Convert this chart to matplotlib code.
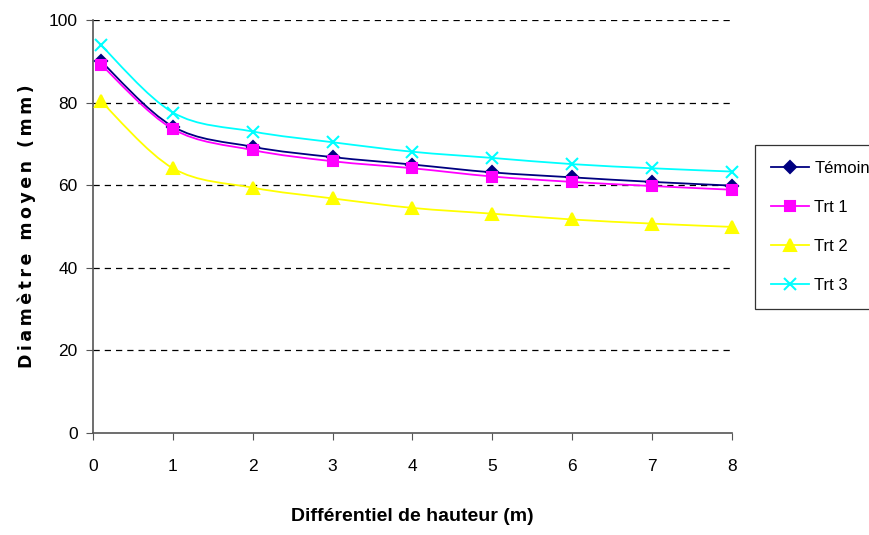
import matplotlib
matplotlib.use("Agg")
import matplotlib.pyplot as plt
import numpy as np
from matplotlib.path import Path
from matplotlib.patches import PathPatch
from matplotlib.lines import Line2D

# Height differential (m)
x_vals = [0.1, 1, 2, 3, 4, 5, 6, 7, 8]

# Mean diameter (mm) per treatment
temoin = [90.0, 74.2, 69.3, 66.8, 65.0, 63.1, 61.9, 60.8, 59.9]
trt1 = [89.2, 73.6, 68.5, 65.8, 64.1, 62.1, 60.8, 59.8, 58.9]
trt2 = [80.3, 64.1, 59.4, 56.8, 54.5, 53.1, 51.7, 50.7, 49.9]
trt3 = [93.9, 77.6, 73.0, 70.4, 68.1, 66.6, 65.1, 64.1, 63.3]

series_names = ["Témoin", "Trt 1", "Trt 2", "Trt 3"]
x_ticks = [0, 1, 2, 3, 4, 5, 6, 7, 8]
y_ticks = [0, 20, 40, 60, 80, 100]

styles = [
    dict(color="#000080", marker="D", ms=6),
    dict(color="#FF00FF", marker="s", ms=7),
    dict(color="#FFFF00", marker="^", ms=8),
    dict(color="#00FFFF", marker="x", ms=8),
]

plt.rcParams["font.family"] = ["Liberation Sans", "DejaVu Sans"]

fig = plt.figure(figsize=(8.7, 5.35), dpi=100)
ax = fig.add_axes([93 / 870, 1 - 433 / 535, (732 - 93) / 870, (433 - 20) / 535])


def smooth_path(xs, ys):
    """Cubic Bezier through the points (Catmull-Rom style tangents)."""
    pts = np.column_stack([xs, ys]).astype(float)
    n = len(pts)
    verts = [pts[0]]
    codes = [Path.MOVETO]
    for i in range(n - 1):
        p0 = pts[i - 1] if i > 0 else pts[i]
        p1 = pts[i]
        p2 = pts[i + 1]
        p3 = pts[i + 2] if i + 2 < n else pts[i + 1]
        c1 = p1 + (p2 - p0) / 6.0
        c2 = p2 - (p3 - p1) / 6.0
        verts += [c1, c2, p2]
        codes += [Path.CURVE4] * 3
    return Path(verts, codes)


all_series = [temoin, trt1, trt2, trt3]
handles = []
for name, ys, st in zip(series_names, all_series, styles):
    patch = PathPatch(smooth_path(x_vals, ys), facecolor="none",
                      edgecolor=st["color"], lw=1.3, zorder=3)
    ax.add_patch(patch)
    ax.plot(x_vals, ys, linestyle="none", marker=st["marker"],
            color=st["color"], markersize=st["ms"], mew=1.5, zorder=4,
            clip_on=False)
    handles.append(Line2D([], [], color=st["color"], lw=1.3,
                          marker=st["marker"], markersize=st["ms"], mew=1.5,
                          label=name))

ax.set_xlim(0, 8)
ax.set_ylim(0, 100)
ax.set_xticks(x_ticks)
ax.set_yticks(y_ticks)
ax.tick_params(axis="both", labelsize=12.5, direction="out", length=5,
               color="#555555", pad=6)
ax.tick_params(axis="x", pad=14)

for y in y_ticks[1:]:
    ax.axhline(y, color="black", lw=0.9, dashes=(5, 4), zorder=1)

for side in ["top", "right"]:
    ax.spines[side].set_visible(False)
for side in ["left", "bottom"]:
    ax.spines[side].set_color("#555555")
    ax.spines[side].set_linewidth(1.2)

ax.set_xlabel("Différentiel de hauteur (m)", fontsize=14, fontweight="bold",
              labelpad=24)

# letter-spaced vertical title
ylabel_text = "\u2009".join("Diamètre moyen (mm)")
fig.text(27 / 870, 1 - 226 / 535, ylabel_text, rotation=90,
         fontsize=12.5, fontweight="bold", family=["DejaVu Sans"],
         ha="center", va="center")

leg = fig.legend(handles=handles, loc="upper left",
                 bbox_to_anchor=(755 / 870, 1 - 145 / 535),
                 frameon=True, fancybox=False, fontsize=12,
                 handlelength=2.3, handletextpad=0.3, labelspacing=1.45,
                 borderpad=0.95, borderaxespad=0)
leg.get_frame().set_edgecolor("black")
leg.get_frame().set_linewidth(0.9)

fig.savefig("out.png", dpi=100)
